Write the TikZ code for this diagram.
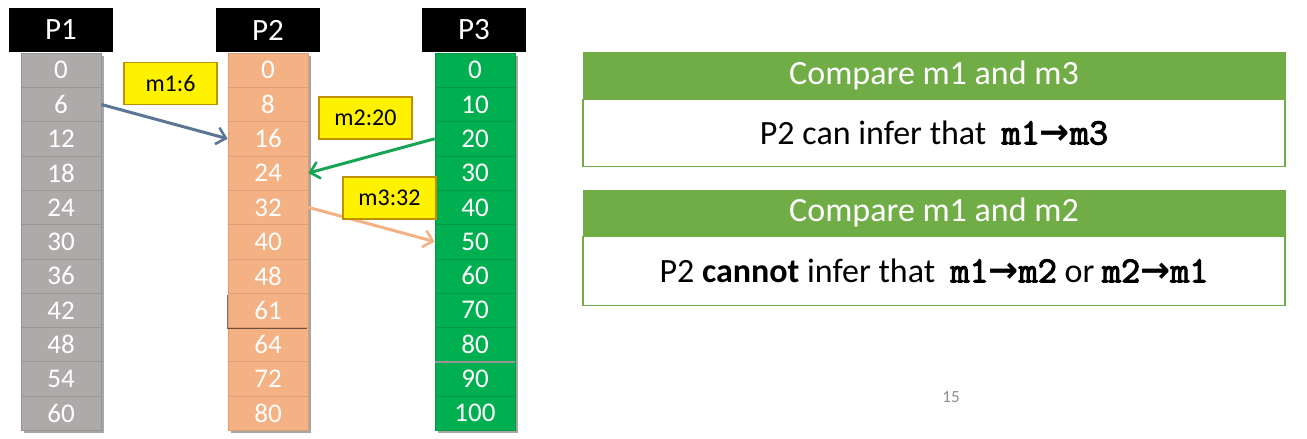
\documentclass[tikz,border=0pt]{standalone}
\usepackage{fontspec}
\setmainfont{Carlito}
\newfontfamily\arrowfont{DejaVu Sans}
\newfontfamily\codefont[FakeBold=3]{Latin Modern Mono}
\usetikzlibrary{arrows.meta,shadows}

\definecolor{cellgray}{HTML}{AEAAAA}
\definecolor{linegray}{HTML}{999595}
\definecolor{cellpeach}{HTML}{F4B183}
\definecolor{linepeach}{HTML}{DD9E74}
\definecolor{cellgreen}{HTML}{00B050}
\definecolor{linegreen}{HTML}{009A45}
\definecolor{hdrgreen}{HTML}{70AD47}
\definecolor{msgblue}{HTML}{5B7594}
\definecolor{msggreen}{HTML}{17A554}
\definecolor{labelborder}{HTML}{C09000}
\definecolor{pagegray}{HTML}{8C8C8C}

\newcommand{\mono}[1]{{\codefont\bfseries\fontsize{37}{37}\selectfont #1}}
\newcommand{\thenarrow}{{\arrowfont\bfseries\fontsize{36}{36}\selectfont →}}

\begin{document}
\begin{tikzpicture}[x=1pt,y=-1pt,
  procbox/.style={fill=black,text=white,minimum width=104pt,minimum height=44pt,
    inner sep=0pt,font=\fontsize{31}{31}\selectfont},
  cell/.style={minimum width=80pt,minimum height=34.3pt,inner sep=0pt,text=white,
    line width=0.6pt,font=\fontsize{27}{27}\selectfont},
  graycell/.style={cell,fill=cellgray,draw=linegray},
  peachcell/.style={cell,fill=cellpeach,draw=linepeach},
  greencell/.style={cell,fill=cellgreen,draw=linegreen},
  msglabel/.style={fill=yellow,draw=labelborder,line width=1.2pt,minimum width=93pt,
    minimum height=42pt,inner sep=0pt,font=\fontsize{24}{24}\selectfont},
  msg/.style={line width=3pt,-{Straight Barb[length=9pt,width=17pt,line width=2.6pt]}},
  cmphead/.style={fill=hdrgreen,draw=hdrgreen,line width=1pt,text=white,minimum width=702pt,
    inner sep=0pt,font=\fontsize{34}{34}\selectfont},
  cmpbody/.style={fill=white,draw=hdrgreen,line width=1.5pt,text=black,minimum width=702pt,
    inner sep=0pt,font=\fontsize{34}{34}\selectfont},
  colshadow/.style={drop shadow={shadow xshift=2.5pt,shadow yshift=-2.5pt,opacity=0.35,fill=black}}
]
\useasboundingbox (0,0) rectangle (1307,439);

% column backgrounds carry the soft shadows
\fill[cellgray,colshadow] (21,53) rectangle (101,430.3);
\fill[cellpeach,colshadow] (228,53) rectangle (308,430.3);
\fill[cellgreen,colshadow] (435,53) rectangle (515,430.3);

% process headers
\node[procbox] (h1) at (61,30) {P1};
\node[procbox] (h2) at (268,30) {P2};
\node[procbox] (h3) at (474,30) {P3};

% P1 clock values
\foreach \v [count=\i from 0] in {0,6,12,18,24,30,36,42,48,54,60}
  \node[graycell] (a\i) at (61,{53+34.3*(\i+0.5)}) {\v};

% P2 clock values
\foreach \v [count=\i from 0] in {0,8,16,24,32,40,48}
  \node[peachcell] (b\i) at (268,{53+34.3*(\i+0.5)}) {\v};
\foreach \v [count=\i from 8] in {64,72,80}
  \node[peachcell] (b\i) at (268,{53+34.3*(\i+0.5)}) {\v};
\node[peachcell,drop shadow={shadow xshift=-1.5pt,shadow yshift=-2pt,opacity=0.55,fill=black}]
  (b7) at (268,{53+34.3*7.5}) {61};

% P3 clock values
\foreach \v [count=\i from 0] in {0,10,20,30,40,50,60,70,80,90,100}
  \node[greencell] (c\i) at (475,{53+34.3*(\i+0.5)}) {\v};
\draw[linegray,line width=1.2pt] (c8.south west) -- (c8.south east);

% messages
\draw[msg,msgblue] (a1.east) -- (b2.west);
\draw[msg,msggreen] (c2.west) -- (b3.east);
\draw[msg,cellpeach] (b4.east) -- (c5.west);

\node[msglabel] (l1) at (170.5,83.5) {m1:6};
\node[msglabel] (l2) at (365.5,118) {m2:20};
\node[msglabel] (l3) at (389.5,198) {m3:32};

% comparison panels
\node[cmphead,minimum height=46pt] (k1) at (934,75) {Compare m1 and m3};
\node[cmpbody,minimum height=67pt,anchor=north] (t1) at (k1.south)
  {P2 can infer that \ \mono{m1}\thenarrow\mono{m3}};
\node[cmphead,minimum height=45pt] (k2) at (934,212.5) {Compare m1 and m2};
\node[cmpbody,minimum height=69pt,anchor=north] (t2) at (k2.south)
  {P2 \textbf{cannot} infer that \ \mono{m1}\thenarrow\mono{m2} or \mono{m2}\thenarrow\mono{m1}};

% page number
\node[text=pagegray,font=\fontsize{17}{17}\selectfont] (pg) at (951,397) {15};
\end{tikzpicture}
\end{document}
